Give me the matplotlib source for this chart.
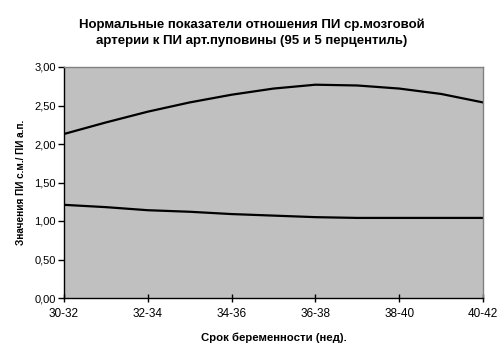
import matplotlib
matplotlib.use("Agg")
import matplotlib.pyplot as plt
from matplotlib.ticker import FuncFormatter

categories = ["30-32", "32-34", "34-36", "36-38", "38-40", "40-42"]
# values read at half-category steps (0, 0.5, 1, ... 5)
x_pos = [0, 0.5, 1, 1.5, 2, 2.5, 3, 3.5, 4, 4.5, 5]
p95 = [2.13, 2.28, 2.42, 2.54, 2.64, 2.72, 2.77, 2.76, 2.72, 2.65, 2.54]
p5 = [1.21, 1.18, 1.14, 1.12, 1.09, 1.07, 1.05, 1.04, 1.04, 1.04, 1.04]

plt.rcParams['font.family'] = ['Liberation Sans', 'DejaVu Sans']

fig = plt.figure(figsize=(5.04, 3.57), dpi=100)
ax = fig.add_axes([64/504, 59/357, 419/504, 231/357])
ax.set_facecolor('#C0C0C0')

ax.plot(x_pos, p95, color='black', lw=1.6, solid_joinstyle='round')
ax.plot(x_pos, p5, color='black', lw=1.6, solid_joinstyle='round')

ax.set_xlim(0, 5)
ax.set_ylim(0, 3)
ax.set_xticks(range(len(categories)))
ax.set_xticklabels(categories, fontsize=8.5)
ax.set_yticks([0, 0.5, 1, 1.5, 2, 2.5, 3])
ax.yaxis.set_major_formatter(FuncFormatter(lambda v, p: f"{v:.2f}".replace('.', ',')))
ax.tick_params(axis='y', direction='out', length=4, width=1, labelsize=8, pad=2)
ax.tick_params(axis='x', direction='inout', length=6, width=1, labelsize=8.5, pad=4)

for s in ['top', 'right']:
    ax.spines[s].set_color('#808080')
    ax.spines[s].set_linewidth(1)
for s in ['left', 'bottom']:
    ax.spines[s].set_color('black')
    ax.spines[s].set_linewidth(1)

ax.set_xlabel("Срок беременности (нед).", fontsize=8.2, fontweight='bold', labelpad=9)
ax.set_ylabel("Значения ПИ с.м./ ПИ а.п.", fontsize=7.2, fontweight='bold', labelpad=6)

fig.text(0.5, 1 - 33/357, "Нормальные показатели отношения ПИ ср.мозговой\nартерии к ПИ арт.пуповины (95 и 5 перцентиль)",
         ha='center', va='center', fontsize=9.5, fontweight='bold', linespacing=1.45)

fig.savefig("out.png", dpi=100, facecolor='white')
